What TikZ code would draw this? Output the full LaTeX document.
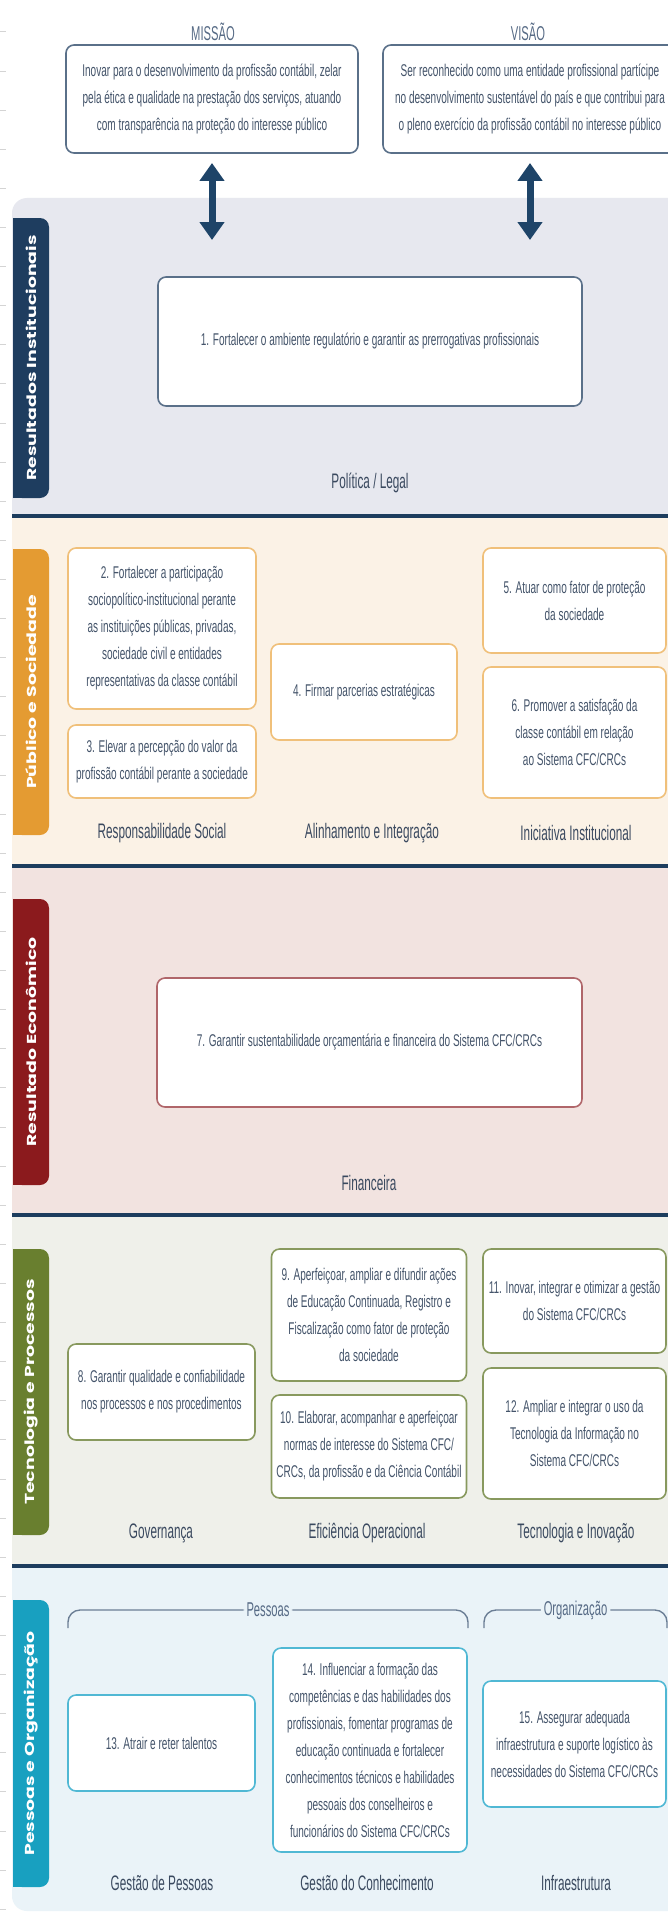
\documentclass[tikz,border=0pt]{standalone}
\usepackage{fontspec}
\setmainfont{Liberation Sans}[FakeStretch=0.59]
\newfontfamily\lblfont{Liberation Sans}[FakeStretch=0.56]
\newfontfamily\tabfont{Poppins}[FakeStretch=1.45]
\usetikzlibrary{arrows.meta,calc}
\definecolor{bgA}{HTML}{E7E8EF}
\definecolor{bgB}{HTML}{FBF2E6}
\definecolor{bgC}{HTML}{F2E3E0}
\definecolor{bgD}{HTML}{EFF0EA}
\definecolor{bgE}{HTML}{EAF3F8}
\definecolor{tabA}{HTML}{1E3D5F}
\definecolor{tabB}{HTML}{E49B32}
\definecolor{tabC}{HTML}{8B1A1D}
\definecolor{tabD}{HTML}{697F2F}
\definecolor{tabE}{HTML}{18A0C0}
\definecolor{brdA}{HTML}{5A7089}
\definecolor{brdB}{HTML}{F0C07A}
\definecolor{brdC}{HTML}{B0666A}
\definecolor{brdD}{HTML}{88995E}
\definecolor{brdE}{HTML}{50B8D4}
\definecolor{sepc}{HTML}{1D3D5E}
\definecolor{arrc}{HTML}{1E4468}
\definecolor{txt}{HTML}{44546A}
\definecolor{lbltxt}{HTML}{3A495F}
\definecolor{headtxt}{HTML}{566A85}
\definecolor{tickc}{HTML}{D4D4D4}
\begin{document}
\begin{tikzpicture}[x=1pt,y=-1pt,
  obj/.style={draw, line width=1.6pt, rounded corners=8pt, fill=white, align=center,
    font=\fontsize{17}{27}\selectfont, text=txt, inner sep=0pt},
  lbl/.style={font=\lblfont\fontsize{21}{23}\selectfont, text=lbltxt, inner sep=1pt},
  head/.style={font=\lblfont\fontsize{20}{22}\selectfont, text=headtxt, inner sep=1pt},
  tabbox/.style={rotate=90, rounded corners=9pt, inner sep=0pt, minimum height=36pt,
    text=white, font={\tabfont\bfseries\fontsize{13}{15}\selectfont}},
  sepline/.style={draw=sepc, line width=4pt},
  brk/.style={draw=brdA!90, line width=1.4pt, rounded corners=12pt},
  bigarrow/.style={draw=arrc, line width=7pt,
    {Triangle[width=24pt,length=18pt]}-{Triangle[width=24pt,length=18pt]}}
]
\clip (0,0) rectangle (668,1913);
\fill[white] (0,0) rectangle (668,1913);
% ruler ticks
\foreach \k in {0,...,48} {\draw[tickc, line width=1pt] (0,{32+39.11*\k}) -- ++(6,0);}
% band backgrounds
\begin{scope}
  \clip[rounded corners=15pt] (12,198) rectangle (720,1911);
  \fill[bgA] (0,190) rectangle (720,516);
  \fill[bgB] (0,516) rectangle (720,866);
  \fill[bgC] (0,866) rectangle (720,1215);
  \fill[bgD] (0,1215) rectangle (720,1566);
  \fill[bgE] (0,1566) rectangle (720,1920);
  \draw[sepline] (0,516) -- (720,516);
  \draw[sepline] (0,866) -- (720,866);
  \draw[sepline] (0,1215) -- (720,1215);
  \draw[sepline] (0,1566) -- (720,1566);
\end{scope}
% tabs
\fill[tabA] (13,218) rectangle (30,498);
\node[tabbox, fill=tabA, minimum width=280pt] (tA) at (31,358) {Resultados Institucionais};
\fill[tabB] (13,549) rectangle (30,835);
\node[tabbox, fill=tabB, minimum width=286pt] (tB) at (31,692) {Público e Sociedade};
\fill[tabC] (13,899) rectangle (30,1185);
\node[tabbox, fill=tabC, minimum width=286pt] (tC) at (31,1042) {Resultado Econômico};
\fill[tabD] (13,1249) rectangle (30,1535);
\node[tabbox, fill=tabD, minimum width=286pt] (tD) at (31,1392) {Tecnologia e Processos};
\fill[tabE] (13,1600) rectangle (30,1887);
\node[tabbox, fill=tabE, minimum width=287pt] (tE) at (31,1743.5) {Pessoas e Organização};
% mission / vision
\node[head] (hM) at (213,32) {MISSÃO};
\node[head] (hV) at (528,32) {VISÃO};
\node[obj, draw=brdA, minimum width=292pt, minimum height=108pt] (missao) at (212,99)
  {Inovar para o desenvolvimento da profissão contábil, zelar\\
   pela ética e qualidade na prestação dos serviços, atuando\\
   com transparência na proteção do interesse público};
\node[obj, draw=brdA, minimum width=294pt, minimum height=108pt] (visao) at (530,99)
  {Ser reconhecido como uma entidade profissional partícipe\\
   no desenvolvimento sustentável do país e que contribui para\\
   o pleno exercício da profissão contábil no interesse público};
\coordinate (aM1) at (212,163);
\coordinate (aM2) at (212,240);
\coordinate (aV1) at (530,163);
\coordinate (aV2) at (530,240);
\draw[bigarrow] (aM1) -- (aM2);
\draw[bigarrow] (aV1) -- (aV2);
% band 1
\node[obj, draw=brdA, minimum width=424pt, minimum height=129pt] (b1) at (370,341.5)
  {1. Fortalecer o ambiente regulatório e garantir as prerrogativas profissionais};
\node[lbl] (lA) at (370,483) {Política / Legal};
% band 2
\node[obj, draw=brdB, minimum width=188pt, minimum height=161pt] (b2) at (162,628.5)
  {2. Fortalecer a participação\\ sociopolítico-institucional perante\\ as instituições públicas, privadas,\\ sociedade civil e entidades\\ representativas da classe contábil};
\node[obj, draw=brdB, minimum width=188pt, minimum height=73pt] (b3) at (162,761.5)
  {3. Elevar a percepção do valor da\\ profissão contábil perante a sociedade};
\node[obj, draw=brdB, minimum width=186pt, minimum height=96pt] (b4) at (364,692)
  {4. Firmar parcerias estratégicas};
\node[obj, draw=brdB, minimum width=183pt, minimum height=105pt] (b5) at (574.5,600.5)
  {5. Atuar como fator de proteção\\ da sociedade};
\node[obj, draw=brdB, minimum width=183pt, minimum height=131pt] (b6) at (574.5,732.5)
  {6. Promover a satisfação da\\ classe contábil em relação\\ ao Sistema CFC/CRCs};
\node[lbl] (lB1) at (162,833) {Responsabilidade Social};
\node[lbl] (lB2) at (372,833) {Alinhamento e Integração};
\node[lbl] (lB3) at (576,833) {Iniciativa Institucional};
% band 3
\node[obj, draw=brdC, minimum width=425pt, minimum height=129pt] (b7) at (369.5,1042.5)
  {7. Garantir sustentabilidade orçamentária e financeira do Sistema CFC/CRCs};
\node[lbl] (lC) at (369,1183) {Financeira};
% band 4
\node[obj, draw=brdD, minimum width=187pt, minimum height=96pt] (b8) at (161.5,1392)
  {8. Garantir qualidade e confiabilidade\\ nos processos e nos procedimentos};
\node[obj, draw=brdD, minimum width=195pt, minimum height=132pt] (b9) at (369,1315)
  {9. Aperfeiçoar, ampliar e difundir ações\\ de Educação Continuada, Registro e\\ Fiscalização como fator de proteção\\ da sociedade};
\node[obj, draw=brdD, minimum width=195pt, minimum height=103pt] (b10) at (369,1446.5)
  {10. Elaborar, acompanhar e aperfeiçoar\\ normas de interesse do Sistema CFC/\\ CRCs, da profissão e da Ciência Contábil};
\node[obj, draw=brdD, minimum width=183pt, minimum height=104pt] (b11) at (574.5,1301)
  {11. Inovar, integrar e otimizar a gestão\\ do Sistema CFC/CRCs};
\node[obj, draw=brdD, minimum width=183pt, minimum height=131pt] (b12) at (574.5,1433.5)
  {12. Ampliar e integrar o uso da\\ Tecnologia da Informação no\\ Sistema CFC/CRCs};
\node[lbl] (lD1) at (161,1533) {Governança};
\node[lbl] (lD2) at (367,1533) {Eficiência Operacional};
\node[lbl] (lD3) at (576,1533) {Tecnologia e Inovação};
% band 5
\coordinate (pA) at (68,1628);
\coordinate (pB) at (468,1628);
\coordinate (oA) at (484,1628);
\coordinate (oB) at (667,1628);
\draw[brk] (pA) -- ++(0,-18) -- node[head, fill=bgE, inner xsep=3pt] (pess) {Pessoas} ($(pB)+(0,-18)$) -- (pB);
\draw[brk] (oA) -- ++(0,-18) -- node[head, fill=bgE, inner xsep=3pt] (org) {Organização} ($(oB)+(0,-18)$) -- (oB);
\node[obj, draw=brdE, minimum width=187pt, minimum height=96pt] (b13) at (161.5,1743)
  {13. Atrair e reter talentos};
\node[obj, draw=brdE, minimum width=194pt, minimum height=204pt] (b14) at (370,1750)
  {14. Influenciar a formação das\\ competências e das habilidades dos\\ profissionais, fomentar programas de\\ educação continuada e fortalecer\\ conhecimentos técnicos e habilidades\\ pessoais dos conselheiros e\\ funcionários do Sistema CFC/CRCs};
\node[obj, draw=brdE, minimum width=183pt, minimum height=126pt] (b15) at (574.5,1744)
  {15. Assegurar adequada\\ infraestrutura e suporte logístico às\\ necessidades do Sistema CFC/CRCs};
\node[lbl] (lE1) at (162,1883) {Gestão de Pessoas};
\node[lbl] (lE2) at (367,1883) {Gestão do Conhecimento};
\node[lbl] (lE3) at (576,1883) {Infraestrutura};
\end{tikzpicture}
\end{document}
